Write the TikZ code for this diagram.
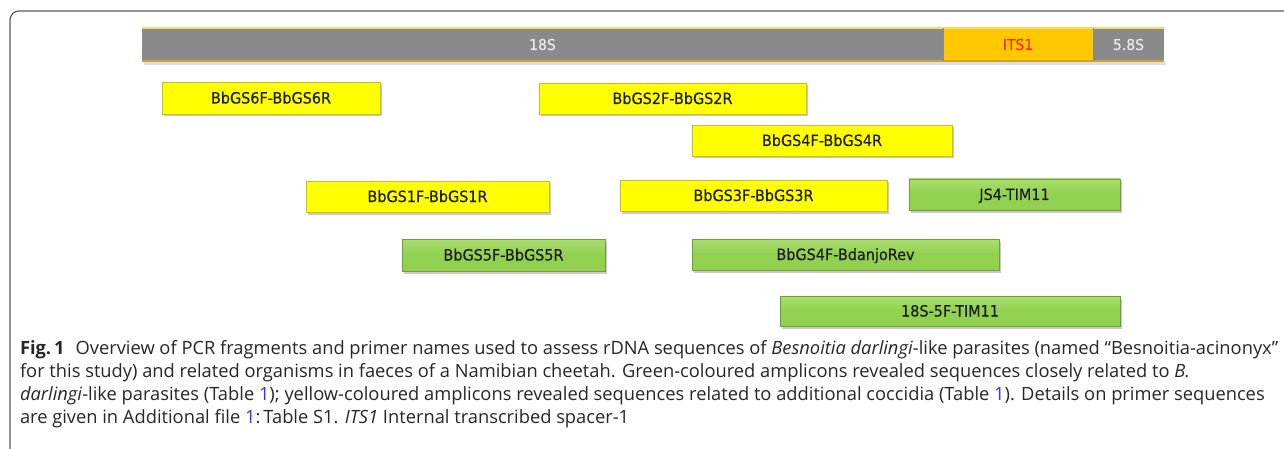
\documentclass[tikz,border=0pt]{standalone}
\usepackage{fontspec}
\setmainfont{Open Sans}
\newfontfamily\labfont[FakeStretch=0.93, FakeBold=0.3]{DejaVu Sans}
\usetikzlibrary{shadows}
\definecolor{framecol}{HTML}{5A5A5A}
\definecolor{bargray}{HTML}{8A8A8A}
\definecolor{bartop}{HTML}{F7DC6A}
\definecolor{barbot}{HTML}{C9A23A}
\definecolor{itsfill}{HTML}{FFC800}
\definecolor{itstext}{HTML}{FF2A00}
\definecolor{yfill}{HTML}{FFFF00}
\definecolor{yedge}{HTML}{CDBA2A}
\definecolor{gfill}{HTML}{92D050}
\definecolor{gtop}{HTML}{A9DE6E}
\definecolor{gedge}{HTML}{6F9E38}
\definecolor{labcol}{HTML}{1C1C1C}
\definecolor{linkblue}{HTML}{3333FF}
\newcommand\amplicon[7]{%
  \node[#6, anchor=north west, minimum width={(#4-#2)*1pt}, minimum height={(#5-#3)*1pt}] (#1) at (#2,#3) {#7};}
\begin{document}
\begin{tikzpicture}[x=1pt,y=-1pt,
  every node/.style={inner sep=0pt, outer sep=0pt},
  seg/.style={draw=none, font=\labfont\fontsize{15}{17}\selectfont, text height=11pt, text depth=0pt},
  ampbase/.style={font=\labfont\fontsize{15.5}{17}\selectfont, text=labcol, line width=0.8pt,
    text height=11pt, text depth=0pt,
    drop shadow={shadow xshift=1.5pt, shadow yshift=-2.5pt, opacity=0.35, fill=black!60}},
  yamp/.style={ampbase, fill=yfill, draw=yedge},
  gamp/.style={ampbase, top color=gtop, bottom color=gfill, middle color=gfill, draw=gedge},
  capline/.style={anchor=base west, font=\fontsize{18.3}{22}\selectfont, text=black!85}]
\useasboundingbox (0,0) rectangle (1284,449);
% frame
\draw[framecol, line width=1.2pt, rounded corners=9pt] (10,449) -- (10,11) -- (1284,11);
% rDNA bar
\fill[black!25, opacity=0.5] (144,62) rectangle (1166,65);
\amplicon{s18}{142}{28}{943}{61}{seg, fill=bargray, text=black!8}{18S}
\amplicon{its}{943}{28}{1093}{61}{seg, fill=itsfill, text=itstext}{ITS1}
\amplicon{s58}{1093}{28}{1164}{61}{seg, fill=bargray, text=black!8}{5.8S}
\draw[bartop, line width=2pt] (s18.north west) -- (s58.north east);
\draw[barbot, line width=1.5pt] (s18.south west) -- (s58.south east);
\draw[black!45, line width=1pt] (its.north west) -- (its.south west);
\draw[black!45, line width=1pt] (its.north east) -- (its.south east);
% amplicons
\amplicon{a6}{162}{82}{380}{114}{yamp}{BbGS6F-BbGS6R}
\amplicon{a2}{539}{83}{806}{114}{yamp}{BbGS2F-BbGS2R}
\amplicon{a4}{692}{125}{952}{156}{yamp}{BbGS4F-BbGS4R}
\amplicon{a1}{306}{181}{549}{212}{yamp}{BbGS1F-BbGS1R}
\amplicon{a3}{620}{180}{887}{211}{yamp}{BbGS3F-BbGS3R}
\amplicon{js}{909}{179}{1120}{210}{gamp}{JS4-TIM11}
\amplicon{a5}{402}{239}{605}{271}{gamp}{BbGS5F-BbGS5R}
\amplicon{bd}{692}{239}{999}{270}{gamp}{BbGS4F-BdanjoRev}
\amplicon{tf}{780}{296}{1120}{326}{gamp}{18S-5F-TIM11}
% caption
\node[capline] (c1) at (20,354) {\textbf{Fig.\,1}\hspace{0.6em}Overview of PCR fragments and primer names used to assess rDNA sequences of \textit{Besnoitia darlingi}-like parasites (named “Besnoitia-acinonyx”};
\node[capline] (c2) at (20,377) {for this study) and related organisms in faeces of a Namibian cheetah. Green-coloured amplicons revealed sequences closely related to \textit{B.}};
\node[capline] (c3) at (20,400) {\textit{darlingi}-like parasites (Table \textcolor{linkblue}{1}); yellow-coloured amplicons revealed sequences related to additional coccidia (Table \textcolor{linkblue}{1}). Details on primer sequences};
\node[capline] (c4) at (20,423) {are given in Additional file \textcolor{linkblue}{1}:\,Table S1. \textit{ITS1} Internal transcribed spacer-1};
\end{tikzpicture}
\end{document}
